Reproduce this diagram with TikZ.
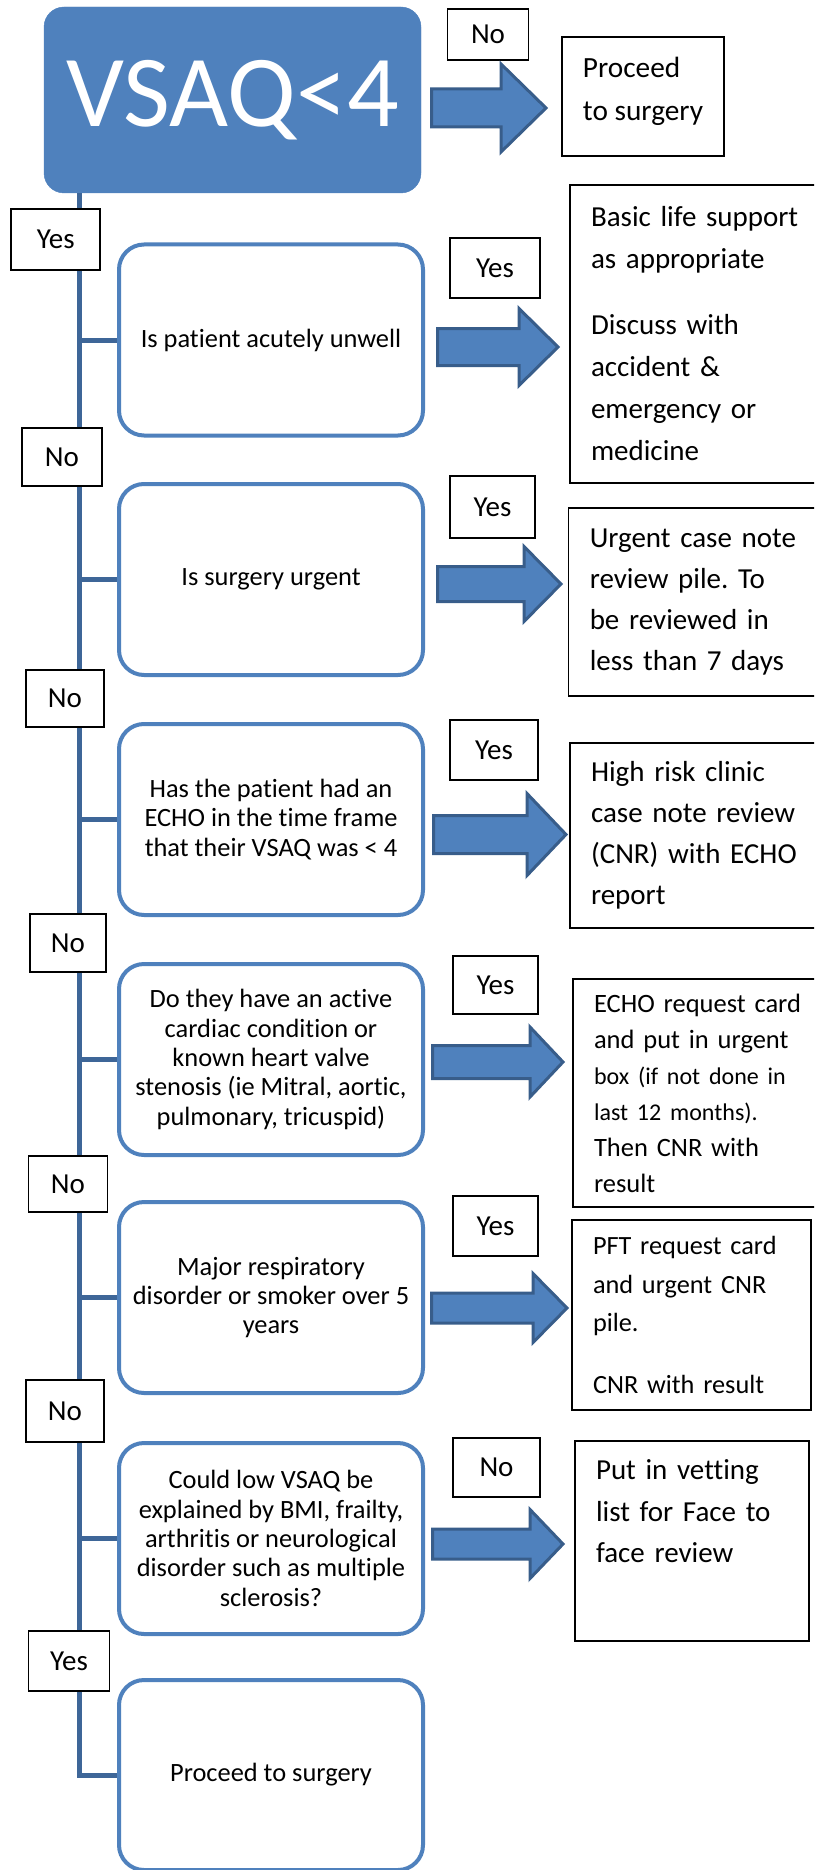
\documentclass[tikz,border=0pt]{standalone}
\usepackage{fontspec}
\setmainfont{Carlito}[Ligatures=NoCommon]
\frenchspacing

\definecolor{vsaqblue}{HTML}{4F81BD}
\definecolor{qblue}{HTML}{4F81BD}
\definecolor{trunkblue}{HTML}{3E6698}
\definecolor{arrowedge}{HTML}{385D8A}

\tikzset{
  startbox/.style={fill=vsaqblue, draw=vsaqblue, rounded corners=20pt, minimum width=377pt,
    minimum height=186pt, inner sep=0pt, text=white, font=\fontsize{102}{110}\selectfont},
  qbox/.style={draw=qblue, line width=4pt, fill=white, rounded corners=25pt, minimum width=304pt,
    minimum height=191pt, inner sep=0pt, align=center, font=\fontsize{26.4}{29.3}\selectfont},
  outbox/.style={draw=black, line width=1.6pt, fill=white, align=left, inner xsep=21pt,
    inner ysep=0pt, font=\fontsize{29}{42}\selectfont},
  ansbox/.style={draw=black, line width=1.5pt, fill=white, inner sep=0pt,
    font=\fontsize{29}{34}\selectfont},
  trunk/.style={draw=trunkblue, line width=5pt},
  arrowblock/.style={fill=vsaqblue, draw=arrowedge, line width=3pt, line join=miter},
}

% x0, head base x, tip x, centre y, shaft half, head half
\newcommand{\blockarrow}[6]{%
  \draw[arrowblock] (#1,#4-#5) -- (#2,#4-#5) -- (#2,#4-#6) -- (#3,#4)
    -- (#2,#4+#6) -- (#2,#4+#5) -- (#1,#4+#5) -- cycle;}

\begin{document}
\begin{tikzpicture}[x=1pt,y=-1pt]
\useasboundingbox (0,0) rectangle (814,1870);
\clip (0,0) rectangle (814,1870);
\coordinate (trunkx) at (79,0);

% start
\node[startbox] (vsaq) at (232.5,100) {VSAQ<4};

% questions
\node[qbox] (q1) at (271,340) {Is patient acutely unwell};
\node[qbox] (q2) at (271,579.5) {Is surgery urgent};
\node[qbox] (q3) at (271,819.5) {Has the patient had an\\ECHO in the time frame\\that their VSAQ was < 4};
\node[qbox] (q4) at (271,1059.5) {Do they have an active\\cardiac condition or\\known heart valve\\stenosis (ie Mitral, aortic,\\pulmonary, tricuspid)};
\node[qbox] (q5) at (271,1297.5) {Major respiratory\\disorder or smoker over 5\\years};
\node[qbox] (q6) at (271,1538.5) {Could low VSAQ be\\explained by BMI, frailty,\\arthritis or neurological\\disorder such as multiple\\sclerosis?};
\node[qbox, minimum height=190pt] (q7) at (271,1775) {Proceed to surgery};

% trunk
\draw[trunk] (vsaq.south -| trunkx) -- (q7.west -| trunkx) -- (q7.west);
\foreach \q in {q1,q2,q3,q4,q5,q6}
  \draw[trunk] (\q.west -| trunkx) -- (\q.west);

% left answers
\node[ansbox, minimum width=89pt, minimum height=61pt] (a0) at (55.7,239.5) {Yes};
\node[ansbox, minimum width=80pt, minimum height=58pt] (a1) at (62,457) {No};
\node[ansbox, minimum width=78pt, minimum height=57pt] (a2) at (65,698.5) {No};
\node[ansbox, minimum width=76pt, minimum height=58pt] (a3) at (68,943) {No};
\node[ansbox, minimum width=79pt, minimum height=56pt] (a4) at (68,1184) {No};
\node[ansbox, minimum width=78pt, minimum height=62pt] (a5) at (65,1411) {No};
\node[ansbox, minimum width=81pt, minimum height=60pt] (a6) at (69,1661) {Yes};

% right answers
\node[ansbox, minimum width=81pt, minimum height=51pt] (b0) at (488,34.7) {No};
\node[ansbox, minimum width=90pt, minimum height=60pt] (b1) at (495,268) {Yes};
\node[ansbox, minimum width=85pt, minimum height=62pt] (b2) at (492.5,507) {Yes};
\node[ansbox, minimum width=88pt, minimum height=60pt] (b3) at (494,750) {Yes};
\node[ansbox, minimum width=85pt, minimum height=58pt] (b4) at (495.5,985) {Yes};
\node[ansbox, minimum width=85pt, minimum height=60pt] (b5) at (495.5,1226) {Yes};
\node[ansbox, minimum width=87pt, minimum height=59pt] (b6) at (496.5,1467.5) {No};

% outcomes
\node[outbox, font=\fontsize{29.3}{43}\selectfont, inner xsep=20pt,
  minimum width=162pt, minimum height=119pt] (o0) at (643,96.5)
  {Proceed\\to surgery\\[-27pt]\mbox{}};
\node[outbox, text width=228pt, minimum width=270pt, minimum height=298pt] (o1) at (705,334)
  {Basic life support\\as appropriate\\[24pt]Discuss with\\accident \&\\emergency or\\medicine};
\node[outbox, font=\fontsize{29}{41}\selectfont, text width=229pt, minimum width=271.5pt,
  minimum height=188pt] (o2) at (704.25,602)
  {Urgent case note\\review pile. To\\be reviewed in\\less than 7 days};
\node[outbox, font=\fontsize{29}{41}\selectfont, text width=228pt, minimum width=270pt,
  minimum height=185pt] (o3) at (705,835.5)
  {High risk clinic\\case note review\\(CNR) with ECHO\\report};
\node[outbox, font=\fontsize{26.5}{36}\selectfont, text width=225pt, minimum width=267pt,
  minimum height=228pt] (o4) at (706.5,1093)
  {ECHO request card\\and put in urgent\\\fontsize{24}{36}\selectfont box (if not done in\\last 12 months).\\\fontsize{26.5}{36}\selectfont Then CNR with\\result};
\node[outbox, font=\fontsize{26.3}{38.5}\selectfont, text width=197pt, minimum width=239pt,
  minimum height=190pt] (o5) at (691.5,1315)
  {PFT request card\\and urgent CNR\\pile.\\[23pt]CNR with result};
\node[outbox, font=\fontsize{29}{41.5}\selectfont, text width=192pt, minimum width=234pt,
  minimum height=200pt] (o6) at (692,1541)
  {Put in vetting\\list for Face to\\face review\\[18pt]\mbox{}};

% block arrows
\blockarrow{431.5}{501}{546}{108}{19}{44}
\blockarrow{437.5}{519}{558}{347}{18.5}{38.5}
\blockarrow{437.5}{524}{561}{584}{17.5}{37.5}
\blockarrow{433.5}{527}{566}{834.5}{19}{41}
\blockarrow{432.5}{530}{563}{1062}{16.5}{35}
\blockarrow{431.5}{533}{567}{1308}{15}{34.5}
\blockarrow{432.5}{530}{563}{1544}{15}{34.5}
\end{tikzpicture}
\end{document}
